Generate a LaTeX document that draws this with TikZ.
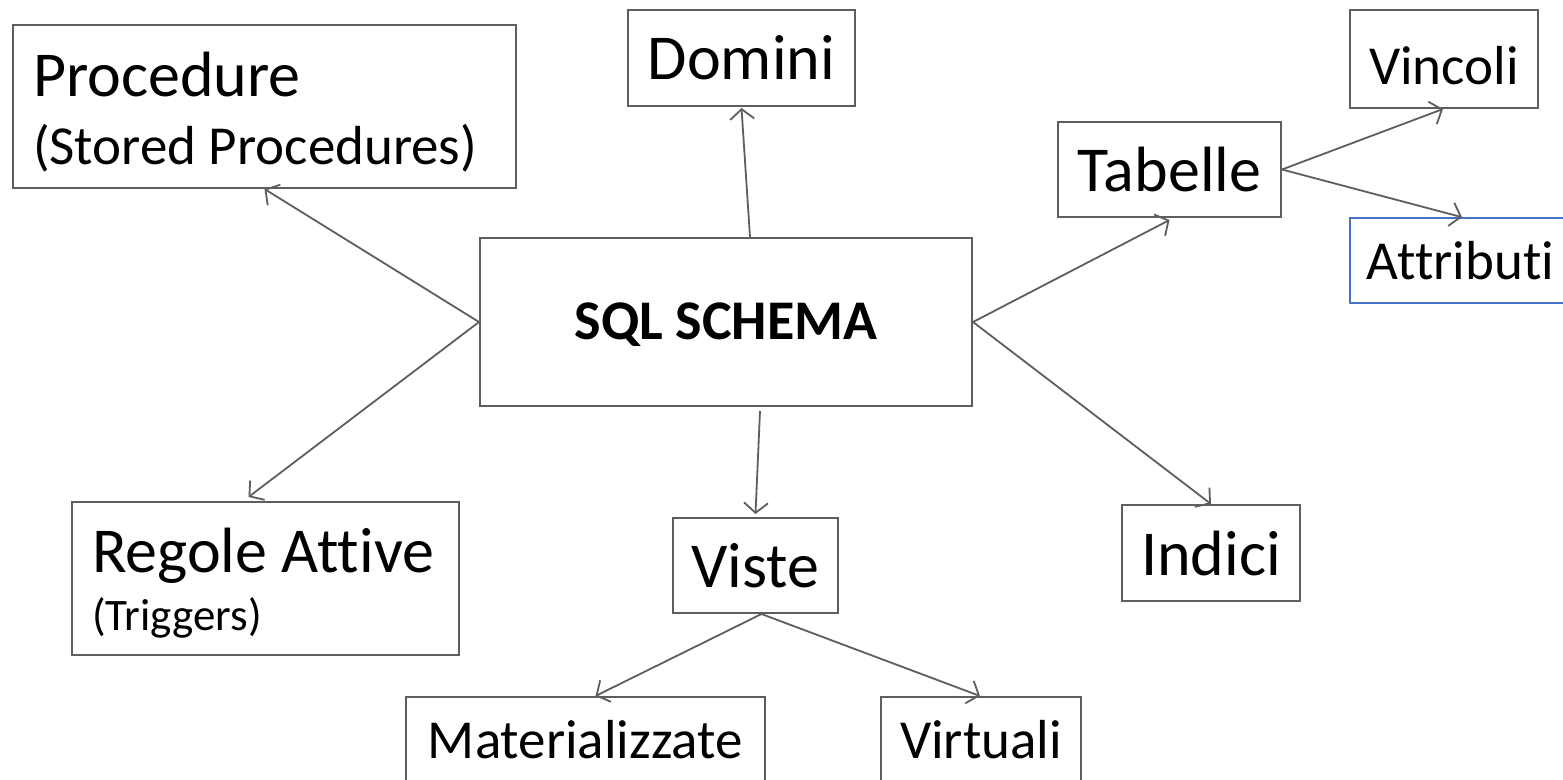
\documentclass[tikz,border=0pt]{standalone}
\usepackage{fontspec}
\setmainfont{Carlito}[Ligatures=NoCommon]
\usetikzlibrary{arrows.meta}
\definecolor{edge}{HTML}{5E5E5E}
\definecolor{accent}{HTML}{4472C4}
% move a label down without changing the space it takes
\newcommand\lowered[2]{\raisebox{-#1}[\height][\depth]{#2}}
\tikzset{
  box/.style={draw=edge, line width=2pt, inner sep=0pt, fill=white, text=black},
  arr/.style={draw=edge, line width=1.8pt, -{Straight Barb[length=10pt,width=24pt]}},
  big/.style={font=\fontsize{64}{70}\selectfont},
  mid/.style={font=\fontsize{55}{62}\selectfont},
}
\begin{document}
\begin{tikzpicture}[x=1pt,y=-1pt]
\useasboundingbox (0,0) rectangle (1563,779);
\fill[white] (0,0) rectangle (1563,779);

% central schema
\node[box, minimum width=492pt, minimum height=168pt, font=\fontsize{56}{62}\selectfont\bfseries] (sql) at (726,322) {\lowered{3pt}{SQL SCHEMA}};

% components of the schema
\node[box, minimum width=503pt, minimum height=163pt] (proc) at (264.5,106.5)
  {\lowered{6pt}{\parbox{463pt}{\raggedright\fontsize{64}{68}\selectfont Procedure\\
   \fontsize{55}{68}\selectfont (Stored Procedures)}}};
\node[box, big, minimum width=227pt, minimum height=96pt] (dom) at (741.5,58) {Domini};
\node[box, big, minimum width=223pt, minimum height=95pt] (tab) at (1169.5,169.5) {Tabelle};
\node[box, mid, minimum width=188pt, minimum height=98pt] (vin) at (1444,59) {\lowered{7pt}{Vincoli}};
\node[box, mid, draw=accent, line width=1.6pt, minimum width=221pt, minimum height=85pt] (att) at (1460.5,260.5) {Attributi};
\node[box, minimum width=387pt, minimum height=153pt] (reg) at (265.5,578.5)
  {\lowered{5pt}{\parbox{347pt}{\raggedright\fontsize{64}{58}\selectfont Regole Attive\\
   \fontsize{45}{58}\selectfont (Triggers)}}};
\node[box, big, minimum width=165pt, minimum height=95pt] (vis) at (755.5,565.5) {Viste};
\node[box, big, minimum width=178pt, minimum height=96pt] (ind) at (1211,553) {Indici};
\node[box, mid, minimum width=359pt, minimum height=96pt] (mat) at (585.5,745) {\lowered{-5pt}{Materializzate}};
\node[box, mid, minimum width=200pt, minimum height=96pt] (vir) at (981,745) {\lowered{-5pt}{Virtuali}};

% connectors
\draw[arr] (sql.west) -- (proc.south);
\draw[arr] (sql.west) -- ([xshift=-17pt,yshift=4pt]reg.north);
\draw[arr] ([xshift=24pt]sql.north) -- ([yshift=-1pt]dom.south);
\draw[arr] ([xshift=34pt,yshift=-4pt]sql.south) -- ([yshift=3pt]vis.north);
\draw[arr] (sql.east) -- ([yshift=-2pt]tab.south);
\draw[arr] (sql.east) -- (ind.north);
\draw[arr] (tab.east) -- ([xshift=-1pt]vin.south);
\draw[arr] (tab.east) -- ([xshift=1.5pt]att.north);
\draw[arr] ([xshift=6pt]vis.south) -- ([xshift=10pt]mat.north);
\draw[arr] ([xshift=6pt]vis.south) -- ([xshift=-1pt]vir.north);
\end{tikzpicture}
\end{document}
